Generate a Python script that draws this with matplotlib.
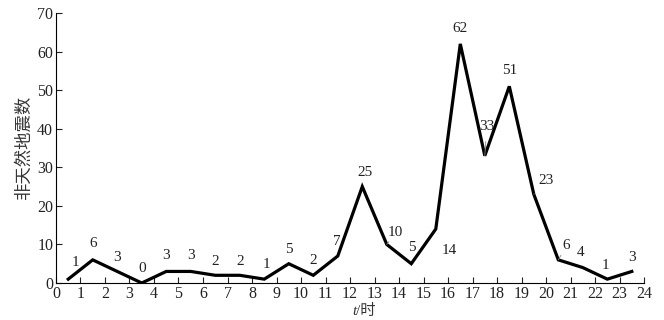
import matplotlib.pyplot as plt

plt.rcParams['font.family'] = ['Liberation Serif', 'Noto Sans CJK SC']

hours = [0.5, 1.5, 2.5, 3.5, 4.5, 5.5, 6.5, 7.5, 8.5, 9.5, 10.5, 11.5,
         12.5, 13.5, 14.5, 15.5, 16.5, 17.5, 18.5, 19.5, 20.5, 21.5, 22.5, 23.5]
counts = [1, 6, 3, 0, 3, 3, 2, 2, 1, 5, 2, 7,
          25, 10, 5, 14, 62, 33, 51, 23, 6, 4, 1, 3]

# label offsets in pixels (dx, dy) and whether a leader line is drawn
offs = [(7, 17), (0, 16), (0, 14), (0, 15), (0, 16), (0, 16), (0, 14), (0, 14),
        (2, 15), (0, 14), (0, 15), (-1, 15), (3, 14), (9, 12), (1, 16), (14, -21),
        (0, 15), (2, 29), (0, 16), (12, 14), (8, 14), (-2, 15), (-2, 14), (0, 14)]
leader = [13, 17, 19, 20]

fig = plt.figure(figsize=(6.64, 3.2), dpi=100)
ax = fig.add_axes([0.0843, 0.1156, 0.8857, 0.8437])

ax.plot(hours, counts, color='black', lw=2.3, solid_joinstyle='miter')

for i, (x, y) in enumerate(zip(hours, counts)):
    dx, dy = offs[i]
    if i in leader:
        ax.annotate(str(y), (x, y), xytext=(dx, dy), textcoords='offset pixels',
                    ha='center', va='center', fontsize=11, color='#222222',
                    arrowprops=dict(arrowstyle='-', color='#888888', lw=0.6,
                                    shrinkA=4, shrinkB=0))
    else:
        ax.annotate(str(y), (x, y), xytext=(dx, dy), textcoords='offset pixels',
                    ha='center', va='center', fontsize=11, color='#222222')

ax.set_xlim(0, 24)
ax.set_ylim(0, 70)
ax.set_xticks(range(0, 25))
ax.set_yticks(range(0, 71, 10))
ax.tick_params(direction='in', length=4, width=0.8, labelsize=11.5,
               colors='#222222', pad=2)
for s in ['top', 'right']:
    ax.spines[s].set_visible(False)
for s in ['left', 'bottom']:
    ax.spines[s].set_linewidth(0.8)

ax.set_ylabel('非天然地震数', family=['Noto Sans CJK SC'], fontsize=12.5,
              color='#333333', labelpad=3)

# x label: italic t followed by "/时"
ax.text(0.511, -0.104, 't', transform=ax.transAxes, ha='right', va='center',
        fontsize=11, style='italic', color='#333333')
ax.text(0.511, -0.104, '/时', transform=ax.transAxes, ha='left', va='center',
        fontsize=11, color='#333333')

fig.savefig('out.png', dpi=100)
